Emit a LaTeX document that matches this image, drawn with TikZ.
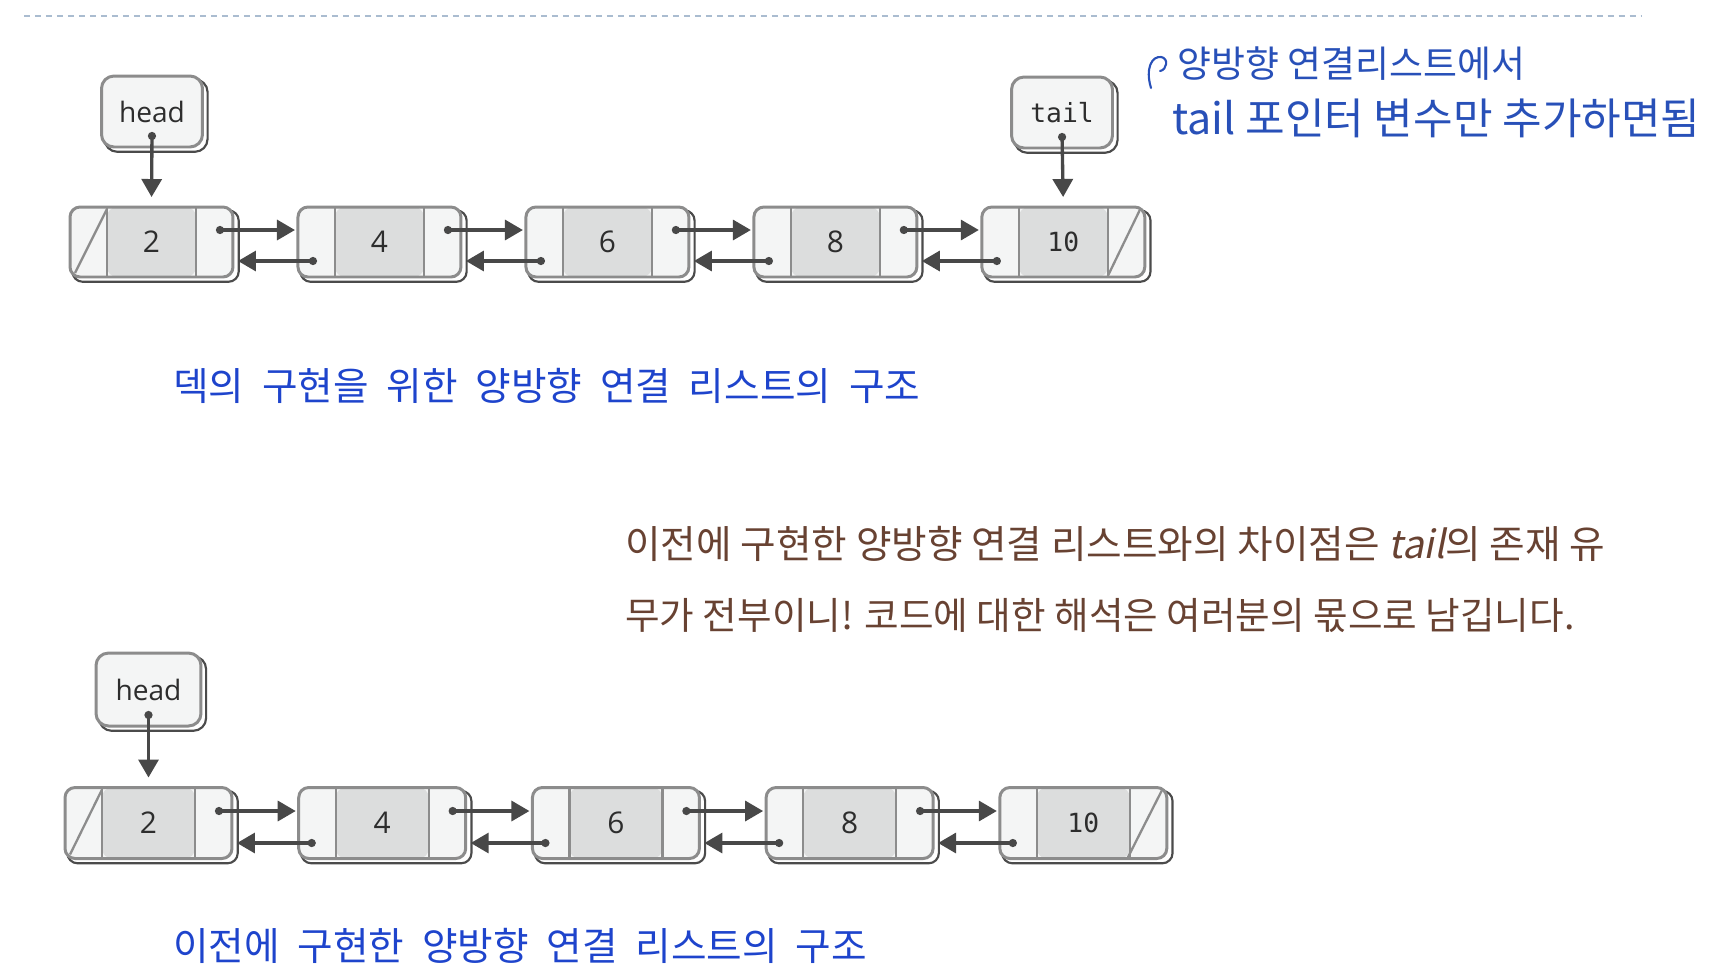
\documentclass[tikz,border=0pt]{standalone}
\usepackage{fontspec}
\setmainfont{Open Sans}
\newfontfamily\monofont{DejaVu Sans Mono}
\newfontfamily\kofont{Noto Sans CJK KR}
\newfontfamily\koslant[FakeSlant=0.2]{Noto Sans CJK KR}
\usetikzlibrary{positioning,calc,arrows.meta,shadows}

\definecolor{boxfill}{RGB}{244,245,245}
\definecolor{boxline}{RGB}{140,140,140}
\definecolor{midcell}{RGB}{220,221,221}
\definecolor{shadowline}{RGB}{75,75,75}
\definecolor{arrowgray}{RGB}{72,72,72}
\definecolor{textdark}{RGB}{45,45,45}
\definecolor{capblue}{RGB}{30,68,204}
\definecolor{handbrown}{RGB}{104,66,50}
\definecolor{handblue}{RGB}{40,80,184}
\definecolor{dashblue}{RGB}{170,188,208}

\begin{document}
\begin{tikzpicture}[x=0.02cm,y=-0.02cm,
	boxshadow/.style={general shadow={shadow xshift=0.08cm,shadow yshift=-0.08cm,shadow scale=1.02,fill=white,draw=shadowline,line width=1.2pt}},
	listnode/.style={boxshadow,rectangle,rounded corners=0.2cm,draw=boxline,fill=boxfill,line width=1.7pt,
		minimum width=3.26cm,minimum height=1.4cm,outer sep=0pt,inner sep=0pt,text=textdark,font=\fontsize{17}{20}\selectfont,
		path picture={
			\fill[midcell] ($(path picture bounding box.south west)+(0.74cm,0)$) rectangle ($(path picture bounding box.north east)+(-0.74cm,0)$);
			\draw[boxline,line width=1.3pt] ($(path picture bounding box.south west)+(0.74cm,0)$) -- ($(path picture bounding box.north west)+(0.74cm,0)$)
			($(path picture bounding box.south east)+(-0.74cm,0)$) -- ($(path picture bounding box.north east)+(-0.74cm,0)$);
		}},
	ptrbox/.style={boxshadow,rectangle,rounded corners=0.25cm,draw=boxline,fill=boxfill,line width=1.7pt,
		minimum width=2.02cm,minimum height=1.42cm,outer sep=0pt,inner sep=0pt,text=textdark,font=\fontsize{16}{19}\selectfont},
	monotext/.style={font=\monofont\fontsize{15}{18}\selectfont},
	nilslash/.style={boxline,line width=1.3pt},
	link/.style={arrowgray,line width=1.9pt,{Circle[length=0.16cm]}-{Triangle[length=0.36cm,width=0.4cm]}},
	pointer/.style={link,shorten >=0.2cm},
	caption/.style={anchor=west,inner sep=0pt,text=capblue,font={\kofont\fontsize{22}{26}\selectfont\spaceskip=0.46em\relax}},
	note/.style={anchor=west,inner sep=0pt,text=handbrown,font=\kofont\fontsize{22}{26}\selectfont},
	memo/.style={anchor=west,inner sep=0pt,text=handblue,font=\kofont\fontsize{21}{25}\selectfont}]
	\useasboundingbox (0,0) rectangle (1720,975);
	
	% dashed rule at the top
	\draw[dashblue,line width=1.2pt,dash pattern=on 0.12cm off 0.1cm] (24,16) -- (1642,16);
	
	% list with head and tail
	\node[ptrbox] (head) at (152,111.5) {head};
	\node[ptrbox,monotext] (tail) at (1062,112.5) {tail};
	\node[listnode] (t2) at (151.5,242) {2};
	\node[listnode,right=1.3cm of t2] (t4) {4};
	\node[listnode,right=1.3cm of t4] (t6) {6};
	\node[listnode,right=1.3cm of t6] (t8) {8};
	\node[listnode,monotext,right=1.3cm of t8] (t10) {10};
	\draw[nilslash] ($(t2.south west)+(5,-4)$) -- ($(t2.north west)+(37,2)$);
	\draw[nilslash] ($(t10.south east)+(-37,-1)$) -- ($(t10.north east)+(-5,3)$);
	
	\draw[pointer] ($(head.south)+(0,-15)$) -- (t2.north);
	\draw[pointer] ($(tail.south)+(0,-15)$) -- (t10.north);
	
	\draw[link] ($(t2.east)+(-17,-12)$) -- ($(t4.west)+(-3,-12)$);
	\draw[link] ($(t4.west)+(19,19)$) -- ($(t2.east)+(5,19)$);
	\draw[link] ($(t4.east)+(-17,-12)$) -- ($(t6.west)+(-3,-12)$);
	\draw[link] ($(t6.west)+(19,19)$) -- ($(t4.east)+(5,19)$);
	\draw[link] ($(t6.east)+(-17,-12)$) -- ($(t8.west)+(-3,-12)$);
	\draw[link] ($(t8.west)+(19,19)$) -- ($(t6.east)+(5,19)$);
	\draw[link] ($(t8.east)+(-17,-12)$) -- ($(t10.west)+(-3,-12)$);
	\draw[link] ($(t10.west)+(19,19)$) -- ($(t8.east)+(5,19)$);
	
	\node[caption] (cap1) at (173,386) {덱의 구현을 위한 양방향 연결 리스트의 구조};
	
	% handwritten memo
	\draw[handblue,line width=1.2pt,line cap=round] (1151,88) .. controls (1145,68) and (1152,56) .. (1161,57) .. controls (1169,58) and (1167,70) .. (1160,71);
	\node[memo] (memo1) at (1177,64) {양방향 연결리스트에서};
	\node[memo,font=\kofont\fontsize{24.5}{28}\selectfont] (memo2) at (1172,118) {tail 포인터 변수만 추가하면됨};
	
	% note between the lists
	\node[note] (note1) at (625,544) {이전에 구현한 양방향 연결 리스트와의 차이점은 {\koslant tail}의 존재 유};
	\node[note,font=\kofont\fontsize{21.4}{26}\selectfont] (note2) at (625,616) {무가 전부이니! 코드에 대한 해석은 여러분의 몫으로 남깁니다.};
	
	% list with head only
	\node[ptrbox,minimum width=2.1cm,minimum height=1.46cm] (head2) at (148.5,689.5) {head};
	\node[listnode,minimum width=3.34cm,minimum height=1.42cm] (b2) at (148.5,823) {2};
	\node[listnode,minimum width=3.34cm,minimum height=1.42cm,right=1.335cm of b2] (b4) {4};
	\node[listnode,minimum width=3.34cm,minimum height=1.42cm,right=1.335cm of b4] (b6) {6};
	\node[listnode,minimum width=3.34cm,minimum height=1.42cm,right=1.335cm of b6] (b8) {8};
	\node[listnode,monotext,minimum width=3.34cm,minimum height=1.42cm,right=1.335cm of b8] (b10) {10};
	\draw[nilslash] ($(b2.south west)+(5,-4)$) -- ($(b2.north west)+(37,2)$);
	\draw[nilslash] ($(b10.south east)+(-39,-1)$) -- ($(b10.north east)+(-5,3)$);
	
	\draw[pointer] ($(head2.south)+(0,-15)$) -- (b2.north);
	
	\draw[link] ($(b2.east)+(-17,-12)$) -- ($(b4.west)+(-3,-12)$);
	\draw[link] ($(b4.west)+(17,20)$) -- ($(b2.east)+(5,20)$);
	\draw[link] ($(b4.east)+(-17,-12)$) -- ($(b6.west)+(-3,-12)$);
	\draw[link] ($(b6.west)+(17,20)$) -- ($(b4.east)+(5,20)$);
	\draw[link] ($(b6.east)+(-17,-12)$) -- ($(b8.west)+(-3,-12)$);
	\draw[link] ($(b8.west)+(17,20)$) -- ($(b6.east)+(5,20)$);
	\draw[link] ($(b8.east)+(-17,-12)$) -- ($(b10.west)+(-3,-12)$);
	\draw[link] ($(b10.west)+(17,20)$) -- ($(b8.east)+(5,20)$);
	
	\node[caption] (cap2) at (173,946) {이전에 구현한 양방향 연결 리스트의 구조};
\end{tikzpicture}
\end{document}
